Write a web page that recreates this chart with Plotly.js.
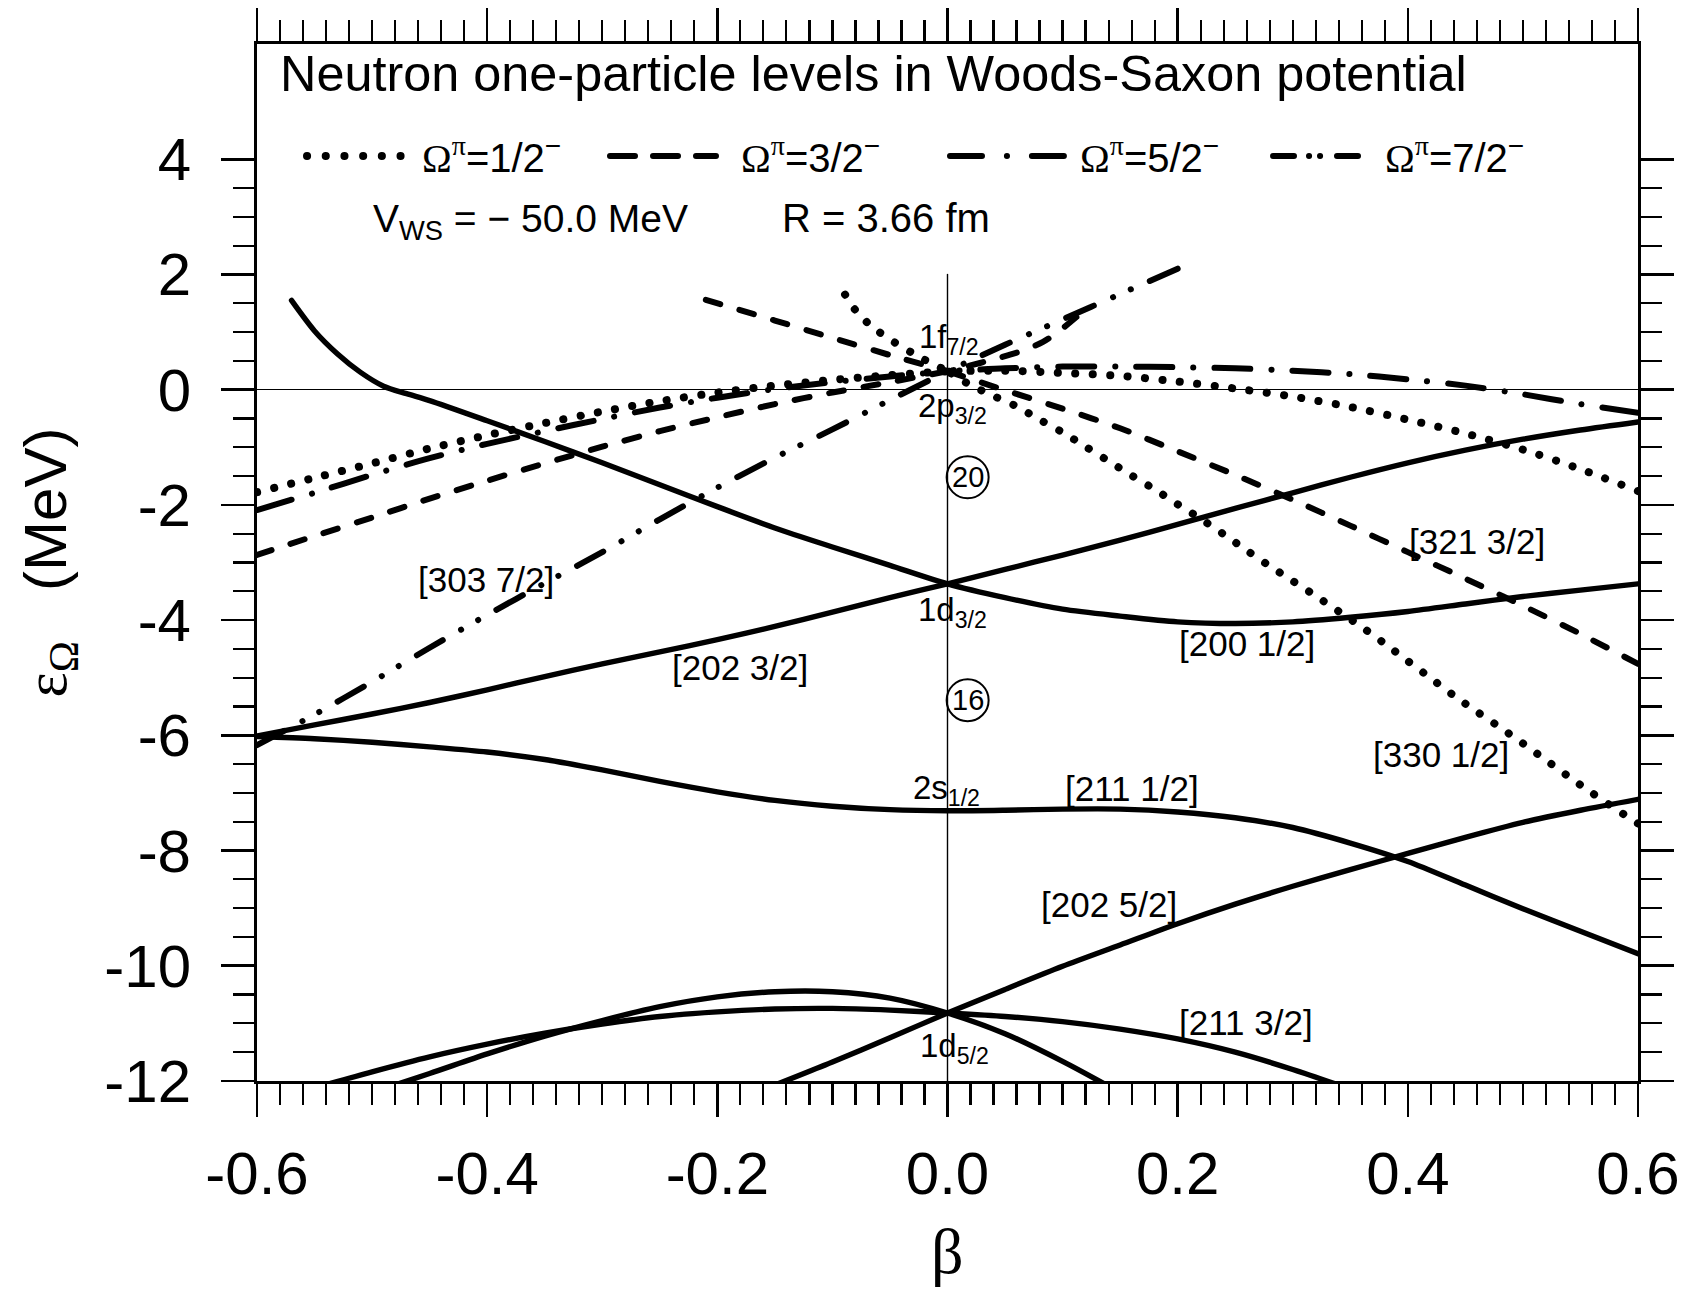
<!DOCTYPE html>
<html>
<head>
<meta charset="utf-8">
<script src="https://cdn.plot.ly/plotly-3.0.1.min.js"></script>
<style>
  html, body { margin: 0; padding: 0; background: #fff; }
  #chart { width: 1688px; height: 1292px; }
  .scatterlayer path.js-line { stroke-linecap: round !important; stroke-linejoin: round !important; }
  .shapelayer path { stroke-linecap: round !important; }
</style>
</head>
<body>
<div id="chart"></div>
<script>
// ---------------- data (beta, energy in MeV) ----------------
// solid curves
const beta_200_12 = [-0.57,-0.55,-0.53,-0.51,-0.49,-0.47,-0.45,-0.40,-0.35,-0.30,-0.25,-0.20,-0.15,-0.10,-0.05,0,0.05,0.10,0.15,0.20,0.25,0.30,0.35,0.40,0.45,0.50,0.55,0.60];
const E_200_12    = [1.55,1.02,0.62,0.30,0.06,-0.07,-0.19,-0.54,-0.90,-1.27,-1.65,-2.03,-2.40,-2.73,-3.05,-3.37,-3.61,-3.81,-3.93,-4.03,-4.06,-4.03,-3.95,-3.85,-3.72,-3.59,-3.48,-3.37];

const beta_202_32 = [-0.60,-0.55,-0.50,-0.45,-0.40,-0.35,-0.30,-0.25,-0.20,-0.15,-0.10,-0.05,0,0.05,0.10,0.15,0.20,0.25,0.30,0.35,0.40,0.45,0.50,0.55,0.60];
const E_202_32    = [-6.01,-5.82,-5.63,-5.43,-5.21,-4.98,-4.76,-4.55,-4.34,-4.11,-3.86,-3.61,-3.37,-3.12,-2.87,-2.61,-2.34,-2.06,-1.79,-1.52,-1.27,-1.05,-0.86,-0.70,-0.56];

const beta_211_12 = [-0.60,-0.55,-0.50,-0.45,-0.40,-0.35,-0.30,-0.25,-0.20,-0.15,-0.10,-0.05,0,0.05,0.10,0.15,0.20,0.25,0.30,0.35,0.40,0.45,0.50,0.55,0.60];
const E_211_12    = [-6.02,-6.06,-6.12,-6.20,-6.29,-6.42,-6.60,-6.80,-6.98,-7.13,-7.23,-7.29,-7.31,-7.30,-7.28,-7.28,-7.33,-7.43,-7.60,-7.87,-8.19,-8.60,-9.01,-9.40,-9.79];

const beta_202_52 = [-0.15,-0.10,-0.05,0,0.05,0.10,0.15,0.20,0.25,0.30,0.35,0.40,0.45,0.50,0.55,0.60];
const E_202_52    = [-12.07,-11.67,-11.25,-10.82,-10.41,-10.01,-9.64,-9.27,-8.93,-8.62,-8.33,-8.05,-7.77,-7.51,-7.30,-7.11];

const beta_211_32 = [-0.55,-0.50,-0.45,-0.40,-0.35,-0.30,-0.25,-0.20,-0.15,-0.10,-0.05,0,0.05,0.10,0.15,0.20,0.25,0.30,0.35];
const E_211_32    = [-12.12,-11.84,-11.58,-11.36,-11.17,-11.01,-10.88,-10.80,-10.75,-10.74,-10.77,-10.82,-10.88,-10.97,-11.10,-11.27,-11.50,-11.80,-12.14];

const beta_d52_ob = [-0.50,-0.45,-0.40,-0.35,-0.30,-0.25,-0.20,-0.15,-0.10,-0.05,0,0.05,0.10,0.15];
const E_d52_ob    = [-12.2,-11.87,-11.53,-11.22,-10.95,-10.71,-10.54,-10.45,-10.45,-10.56,-10.82,-11.18,-11.66,-12.2];

// Omega = 1/2 (dotted)
const beta_h1_obA = [-0.60,-0.55,-0.50,-0.45,-0.40,-0.35,-0.30,-0.25,-0.20,-0.15,-0.10,-0.05,0];
const E_h1_obA    = [-1.78,-1.53,-1.28,-1.02,-0.79,-0.58,-0.38,-0.20,-0.05,0.07,0.17,0.25,0.32];
const beta_h1_obB = [-0.089,-0.08,-0.07,-0.06,-0.05,-0.04,-0.03,-0.02,-0.01,0];
const E_h1_obB    = [1.65,1.38,1.17,1.01,0.87,0.75,0.63,0.52,0.42,0.32];
const beta_h1_prA = [0,0.05,0.10,0.15,0.20,0.25,0.30,0.35,0.40,0.45,0.50,0.55,0.60];
const E_h1_prA    = [0.32,0.33,0.29,0.24,0.14,0.02,-0.12,-0.30,-0.52,-0.76,-1.04,-1.38,-1.76];
const beta_330_12 = [0,0.02,0.04,0.06,0.08,0.10,0.12,0.14,0.16,0.18,0.20,0.22,0.24,0.26,0.28,0.30,0.32,0.34,0.36,0.38,0.40,0.42,0.44,0.46,0.48,0.50,0.52,0.54,0.56,0.58,0.60];
const E_330_12    = [0.32,0.08,-0.11,-0.29,-0.52,-0.74,-0.99,-1.24,-1.49,-1.73,-1.99,-2.24,-2.51,-2.79,-3.06,-3.32,-3.58,-3.85,-4.12,-4.41,-4.71,-5.01,-5.31,-5.59,-5.86,-6.14,-6.43,-6.72,-7.00,-7.27,-7.53];

// Omega = 3/2 (dashed)
const beta_h3_obA = [-0.60,-0.55,-0.50,-0.45,-0.40,-0.35,-0.30,-0.25,-0.20,-0.15,-0.10,-0.05,0];
const E_h3_obA    = [-2.87,-2.54,-2.22,-1.89,-1.58,-1.28,-0.99,-0.72,-0.48,-0.25,-0.05,0.13,0.32];
const beta_h3_obB = [-0.21,-0.15,-0.10,-0.05,0];
const E_h3_obB    = [1.56,1.20,0.90,0.60,0.32];
const beta_h3_prA = [0,0.02,0.037,0.053,0.067,0.083,0.096,0.112];
const E_h3_prA    = [0.32,0.42,0.51,0.60,0.69,0.83,1.00,1.26];
const beta_321_32 = [0,0.05,0.10,0.15,0.20,0.25,0.30,0.35,0.40,0.45,0.50,0.55,0.60];
const E_321_32    = [0.32,-0.01,-0.33,-0.67,-1.07,-1.48,-1.91,-2.36,-2.82,-3.28,-3.75,-4.24,-4.76];

// Omega = 5/2 (dash-dot)
const beta_h5_ob = [-0.60,-0.55,-0.50,-0.45,-0.40,-0.35,-0.30,-0.25,-0.20,-0.15,-0.10,-0.05,0];
const E_h5_ob    = [-2.09,-1.79,-1.48,-1.19,-0.94,-0.72,-0.51,-0.31,-0.14,0.01,0.13,0.23,0.32];
const beta_h5_pr = [0,0.05,0.10,0.15,0.20,0.25,0.30,0.35,0.40,0.45,0.50,0.55,0.60];
const E_h5_pr    = [0.32,0.37,0.40,0.40,0.39,0.37,0.33,0.27,0.18,0.07,-0.08,-0.25,-0.40];

// Omega = 7/2 (dash-dot-dot)
const beta_303_72 = [-0.60,-0.55,-0.50,-0.45,-0.40,-0.35,-0.30,-0.25,-0.20,-0.15,-0.10,-0.05,0];
const E_303_72    = [-6.17,-5.64,-5.07,-4.48,-3.91,-3.36,-2.82,-2.25,-1.70,-1.18,-0.69,-0.18,0.32];
const beta_h7_pr = [0,0.05,0.10,0.15,0.20];
const E_h7_pr    = [0.32,0.78,1.22,1.66,2.10];

// spherical reference line at beta = 0
const refBeta = [0, 0];
const refE    = [2, -12];

// Nilsson labels
const labelText = ['[321 3/2]','[200 1/2]','[330 1/2]','[211 1/2]','[202 5/2]','[211 3/2]','[303 7/2]','[202 3/2]'];
const labelBeta = [0.46, 0.26, 0.429, 0.16, 0.14, 0.259, -0.401, -0.18];
const labelE    = [-2.63, -4.41, -6.34, -6.92, -8.93, -10.99, -3.30, -4.82];

// spherical-shell labels
const shellText = ['1f<sub>7/2</sub>','2p<sub>3/2</sub>','1d<sub>3/2</sub>','2s<sub>1/2</sub>','1d<sub>5/2</sub>'];
const shellBeta = [0.001, 0.004, 0.004, -0.001, 0.006];
const shellE    = [0.88, -0.31, -3.86, -6.95, -11.43];

// magic numbers
const magicText = ['20', '16'];
const magicBeta = [0.0175, 0.0175];
const magicE    = [-1.52, -5.39];

// ticks
const xTickVals = [-0.6,-0.4,-0.2,0,0.2,0.4,0.6];
const xTickText = ['-0.6','-0.4','-0.2','0.0','0.2','0.4','0.6'];
const yTickVals = [-12,-10,-8,-6,-4,-2,0,2,4];
const yTickText = ['-12','-10','-8','-6','-4','-2','0','2','4'];
const yMinorVals = [-11.5,-11,-10.5,-9.5,-9,-8.5,-7.5,-7,-6.5,-5.5,-5,-4.5,-3.5,-3,-2.5,-1.5,-1,-0.5,0.5,1,1.5,2.5,3,3.5];

// ---------------- styles ----------------
const BLACK = '#000';
const SANS = 'Liberation Sans, Arial, sans-serif';
const SERIF = 'Liberation Serif';
const styles = {
  solid:  {color: BLACK, width: 5.4, dash: 'solid'},
  dot:    {color: BLACK, width: 8,   dash: '0.1px,17.4px'},
  dash:   {color: BLACK, width: 6,   dash: '15px,20px'},
  dashdot:{color: BLACK, width: 6,   dash: '36px,21px,0.1px,21px'},
  dashdd: {color: BLACK, width: 6,   dash: '30px,21px,0.1px,19.5px,0.1px,21px'}
};

// outward = true: draw the path from the outer end toward beta = 0 so the dash pattern starts at the outer end
function tr(x, y, st, outward) {
  const xs = outward ? x.slice().reverse() : x;
  const ys = outward ? y.slice().reverse() : y;
  return {x: xs, y: ys, type: 'scatter', mode: 'lines', hoverinfo: 'skip', showlegend: false,
          line: Object.assign({shape: 'spline', smoothing: 0.8}, styles[st])};
}

const traces = [
  {x: refBeta, y: refE, type: 'scatter', mode: 'lines', showlegend: false, hoverinfo: 'skip',
   line: {color: BLACK, width: 1.4}},
  tr(beta_200_12, E_200_12, 'solid'),
  tr(beta_202_32, E_202_32, 'solid'),
  tr(beta_211_12, E_211_12, 'solid'),
  tr(beta_202_52, E_202_52, 'solid'),
  tr(beta_211_32, E_211_32, 'solid'),
  tr(beta_d52_ob, E_d52_ob, 'solid'),
  tr(beta_h1_obA, E_h1_obA, 'dot'),
  tr(beta_h1_obB, E_h1_obB, 'dot'),
  tr(beta_h1_prA, E_h1_prA, 'dot', true),
  tr(beta_330_12, E_330_12, 'dot', true),
  tr(beta_h3_obA, E_h3_obA, 'dash'),
  tr(beta_h3_obB, E_h3_obB, 'dash'),
  tr(beta_h3_prA, E_h3_prA, 'dash', true),
  tr(beta_321_32, E_321_32, 'dash', true),
  tr(beta_h5_ob, E_h5_ob, 'dashdot'),
  tr(beta_h5_pr, E_h5_pr, 'dashdot', true),
  tr(beta_303_72, E_303_72, 'dashdd'),
  tr(beta_h7_pr, E_h7_pr, 'dashdd', true)
];

// ---------------- layout helpers (pixel -> paper) ----------------
const PL = 257, PR = 1638, PT = 44, PB = 1081;
const px = v => (v - PL) / (PR - PL);
const py = v => (PB - v) / (PB - PT);

const annotations = [];
function txt(text, xpx, ypx, size, anchor, family) {
  annotations.push({text: text, xref: 'paper', yref: 'paper', x: px(xpx), y: py(ypx),
    xanchor: anchor || 'left', yanchor: 'middle', showarrow: false,
    font: {family: family || SANS, size: size, color: BLACK}});
}
labelText.forEach((t, i) => annotations.push({text: t, x: labelBeta[i], y: labelE[i], xref: 'x', yref: 'y',
  showarrow: false, xanchor: 'center', yanchor: 'middle', font: {family: SANS, size: 35, color: BLACK}}));
shellText.forEach((t, i) => annotations.push({text: t, x: shellBeta[i], y: shellE[i], xref: 'x', yref: 'y',
  showarrow: false, xanchor: 'center', yanchor: 'middle', font: {family: SANS, size: 33, color: BLACK}}));
magicText.forEach((t, i) => annotations.push({text: t, x: magicBeta[i], y: magicE[i], xref: 'x', yref: 'y',
  showarrow: false, xanchor: 'center', yanchor: 'middle', font: {family: SANS, size: 29, color: BLACK}}));

const OM = "<span style=\"font-family:'Liberation Serif'\">Ω</span><sup><span style=\"font-family:'Liberation Serif'\">π</span></sup>";
txt(OM + '=1/2<sup>−</sup>', 420, 156, 40);
txt(OM + '=3/2<sup>−</sup>', 739, 156, 40);
txt(OM + '=5/2<sup>−</sup>', 1078, 156, 40);
txt(OM + '=7/2<sup>−</sup>', 1383, 156, 40);
txt('V<sub>WS</sub> = − 50.0 MeV', 371, 222, 39);
txt('R = 3.66 fm', 780, 218, 40);
// x-axis title (beta), placed below the tick labels
txt('β', 947.5, 1251, 64, 'center', SERIF);

const shapes = [];
function legLine(x0, x1, dash, w) {
  shapes.push({type: 'line', xref: 'paper', yref: 'paper', x0: px(x0), x1: px(x1), y0: py(156), y1: py(156),
    line: {color: BLACK, width: w || 6, dash: dash}});
}
legLine(307, 400.6, '0.1px,18.6px', 8);
legLine(610, 716, '25px,18px');
legLine(950, 1064, '32px,24.9px,0.1px,24.9px,32px');
legLine(1273, 1358, '21px,15px,0.1px,10.9px,0.1px,16.9px,21px');
magicBeta.forEach((b, i) => shapes.push({type: 'circle', xref: 'x', yref: 'y', xsizemode: 'pixel', ysizemode: 'pixel',
  xanchor: b, yanchor: magicE[i], x0: -21, x1: 21, y0: -21, y1: 21, line: {color: BLACK, width: 2}}));

const axisCommon = {
  showline: true, linewidth: 3, linecolor: BLACK, mirror: 'ticks', ticks: 'outside',
  ticklen: 33, tickwidth: 2.6, tickcolor: BLACK, showgrid: false,
  tickfont: {family: SANS, size: 60, color: BLACK}, automargin: false
};

const layout = Object.assign({
  width: 1688, height: 1292, autosize: false,
  margin: {l: PL, r: 1688 - PR, t: PT, b: 1292 - PB, pad: 0},
  paper_bgcolor: '#fff', plot_bgcolor: '#fff',
  font: {family: SANS, color: BLACK},
  showlegend: false,
  title: {text: 'Neutron one-particle levels in Woods-Saxon potential', font: {family: SANS, size: 50.4, color: BLACK},
          xref: 'container', yref: 'container', x: 280 / 1688, xanchor: 'left', y: 1 - 73 / 1292, yanchor: 'middle'},
  xaxis: Object.assign({}, axisCommon, {
    range: [-0.6, 0.6], tickmode: 'array', tickvals: xTickVals, ticktext: xTickText, zeroline: false,
    ticklabelstandoff: 5,
    minor: {dtick: 0.02, tick0: 0, ticks: 'outside', ticklen: 21, tickwidth: 2.2, tickcolor: BLACK, showgrid: false}
  }),
  yaxis: Object.assign({}, axisCommon, {
    range: [-12, 6], tickmode: 'array', tickvals: yTickVals, ticktext: yTickText,
    zeroline: true, zerolinewidth: 1.4, zerolinecolor: BLACK,
    ticklabelstandoff: 18,
    minor: {tickmode: 'array', tickvals: yMinorVals, ticks: 'outside', ticklen: 21, tickwidth: 2.2, tickcolor: BLACK, showgrid: false},
    title: {text: "<span style=\"font-family:'Liberation Serif'\">ε<sub>Ω</sub></span>\u00a0\u00a0\u00a0(MeV)", font: {family: SANS, size: 60, color: BLACK}, standoff: 19}
  }),
  annotations: annotations,
  shapes: shapes
});

Plotly.newPlot('chart', traces, layout, {staticPlot: true, displayModeBar: false}).then(function () {
  document.querySelectorAll('.scatterlayer path.js-line, .shapelayer path').forEach(function (p) {
    p.style.setProperty('stroke-linecap', 'round', 'important');
  });
});
</script>
</body>
</html>
